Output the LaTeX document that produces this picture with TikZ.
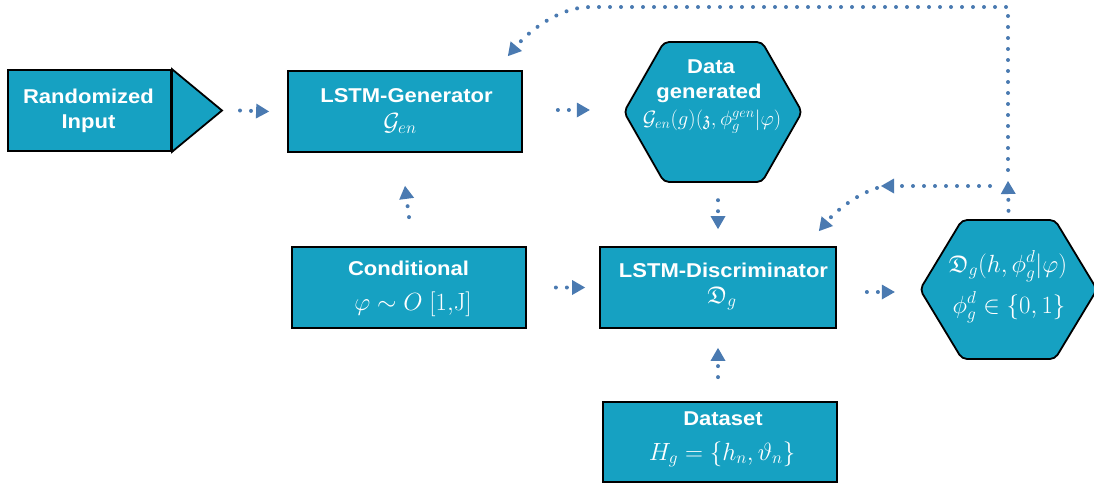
\documentclass[tikz,border=0pt]{standalone}
\usepackage{amssymb}
\usepackage[no-math]{fontspec}
\setmainfont{Liberation Sans}
\newfontfamily\lblfont{Liberation Sans}[FakeStretch=1.1]
\usetikzlibrary{arrows.meta}
\definecolor{boxfill}{RGB}{22,161,194}
\definecolor{arrowc}{RGB}{74,122,177}
\begin{document}
\begin{tikzpicture}[x=1pt,y=-1pt,
  box/.style={draw=black,line width=1.8pt,fill=boxfill,inner sep=0pt},
  hexshape/.style={draw=black,line width=1.8pt,fill=boxfill,rounded corners=5pt},
  lbl/.style={text=white,font=\lblfont\bfseries\fontsize{20}{24}\selectfont,inner sep=0pt,anchor=base},
  mth/.style={text=white,font=\fontsize{24}{28}\selectfont,inner sep=0pt,anchor=base},
  bmth/.style={text=white,font=\fontsize{27}{30}\selectfont,inner sep=0pt,anchor=base},
  smth/.style={text=white,font=\fontsize{20}{24}\selectfont,inner sep=0pt,anchor=base},
  flow/.style={draw=arrowc,line width=4pt,line cap=round,dash pattern=on 0pt off 11pt,
    -{Triangle[length=13pt,width=15pt,line width=0pt,round=false]}}]
\useasboundingbox (0,0) rectangle (1094,485);

% Randomized input
\node[box,minimum width=163,minimum height=81] (ri) at (89.5,110.5) {};
\draw[box] (ri.north east) -- (222,110.5) coordinate (ritip) -- (ri.south east) -- cycle;
\node[lbl] (rit1) at (88.5,103) {Randomized};
\node[lbl] (rit2) at (88.5,128) {Input};

% Generator
\node[box,minimum width=234,minimum height=81] (gen) at (405,111.5) {};
\node[lbl] (gent1) at (406.5,102) {LSTM-Generator};
\node[bmth] (gent2) at (400,130) {$\mathcal{G}_{en}$};

% Data generated hexagon
\draw[hexshape] (664,42) -- (762,42) -- (802,112) -- (762,182) -- (664,182) -- (624,112) -- cycle;
\node[minimum width=178,minimum height=140,inner sep=0pt] (dg) at (713,112) {};
\node[lbl] (dgt1) at (711,73) {Data};
\node[lbl] (dgt2) at (709,98) {generated};
\node[smth] (dgt3) at (712,125) {$\mathcal{G}_{en}(g)(\mathfrak{z},\phi_g^{gen}|\varphi)$};

% Conditional
\node[box,minimum width=234,minimum height=81] (cond) at (409,287.5) {};
\node[lbl] (condt1) at (408.5,275) {Conditional};
\node[mth] (condt2) at (413,310) {$\varphi\sim O\ [1{,}\mathrm{J}]$};

% Discriminator
\node[box,minimum width=236,minimum height=81] (disc) at (718,287.5) {};
\node[lbl] (disct1) at (723.5,277) {LSTM-Discriminator};
\node[mth] (disct2) at (722,303) {$\mathfrak{D}_g$};

% Dataset
\node[box,minimum width=234,minimum height=80] (data) at (720,442) {};
\node[lbl] (datat1) at (723,425) {Dataset};
\node[mth] (datat2) at (722,460) {$H_g=\{h_n,\vartheta_n\}$};

% Output hexagon
\draw[hexshape] (962,220) -- (1055,220) -- (1097,289.5) -- (1055,359) -- (962,359) -- (920,289.5) -- cycle;
\node[minimum width=177,minimum height=139,inner sep=0pt] (out) at (1008.5,289.5) {};
\node[mth] (outt1) at (1008,272) {$\mathfrak{D}_g(h,\phi_g^d|\varphi)$};
\node[mth] (outt2) at (1009,313) {$\phi_g^d\in\{0,1\}$};

% connectors
\draw[flow] ([xshift=18]ritip) -- ([xshift=-18]gen.west);
\draw[flow] ([xshift=35,yshift=1.5]gen.east) -- ([xshift=-34,yshift=2]dg.west);
\draw[flow] ([xshift=5,yshift=-18]dg.south) -- ([yshift=17]disc.north);
\draw[flow] ([xshift=29]cond.east) -- ([xshift=-14]disc.west);
\draw[flow] ([yshift=29]cond.north) -- ([yshift=-33]gen.south);
\draw[flow] ([xshift=-2,yshift=24]data.north) -- ([yshift=-19]disc.south);
\draw[flow] ([xshift=30,yshift=-4.5]disc.east) -- ([xshift=-25,yshift=-2.5]out.west);
\coordinate (c1) at (1008,170);
\coordinate (c2) at (1008,7);
\coordinate (c3) at (590,7);
\coordinate (c4) at (990,186);
\coordinate (c5) at (881,186);
\coordinate (c6) at (877,188);
\draw[flow] ([yshift=9]out.north) -- (1008,181);
\draw[flow] (c1) -- (c2) -- (c3) .. controls (560,7) and (530,30) .. ([xshift=-15,yshift=14]gen.north east);
\draw[flow] (c4) -- (c5);
\draw[flow] (c6) .. controls (855,195) and (835,212) .. ([xshift=-18,yshift=15]disc.north east);
\end{tikzpicture}
\end{document}
